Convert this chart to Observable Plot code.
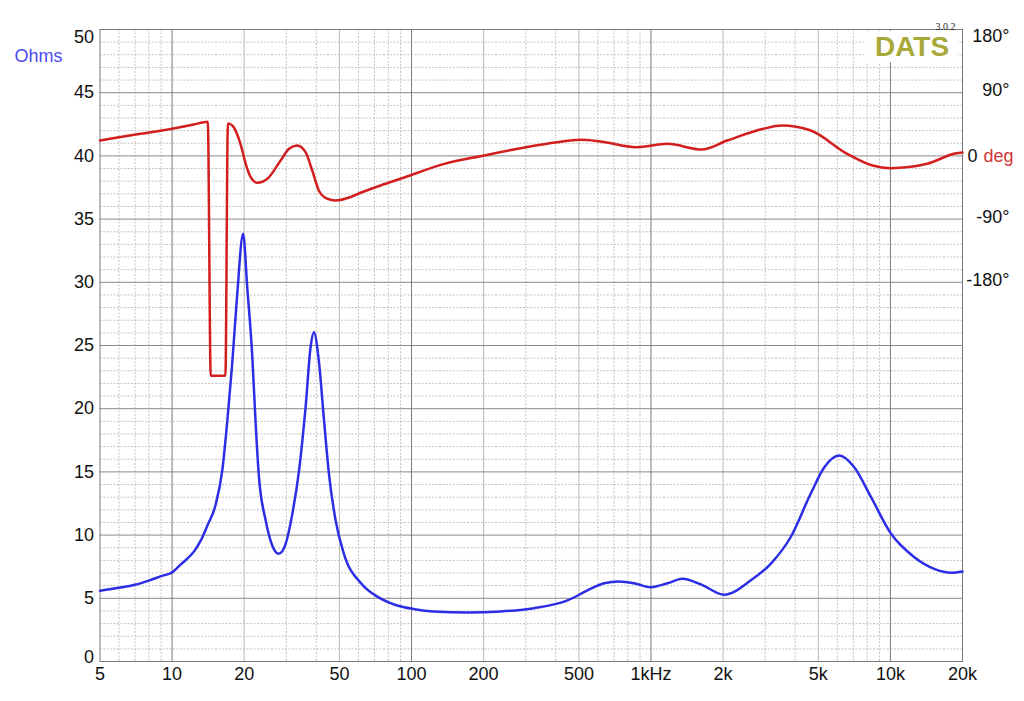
<!DOCTYPE html>
<html><head><meta charset="utf-8">
<script src="https://cdn.jsdelivr.net/npm/d3@7"></script>
<script src="https://cdn.jsdelivr.net/npm/@observablehq/plot@0.6"></script>
<style>
body{margin:0;background:#fff;font-family:"Liberation Sans",Arial,sans-serif;}
#wrap{position:relative;width:1024px;height:701px;overflow:hidden;}
#dats{position:absolute;left:866px;top:31px;width:92px;height:31px;background:#fff;color:#a9a93a;font-weight:bold;font-size:28px;line-height:32px;text-align:center;font-family:"Liberation Sans",Arial,sans-serif;}
</style></head>
<body><div id="wrap"></div>
<script>
// ---- data ----
const impFreq = [5,6,7,8,9,10,10.9,12.4,13.2,14.0,15.2,16.2,17.0,17.8,18.7,19.8,20.6,21.6,22.3,23.0,24.6,26.2,27.9,29.8,31.8,33.9,36.1,37.9,39.1,41.0,43.1,45.2,48.2,52.2,61.8,72.6,85.1,103,124,171,236,325,448,543,637,736,851,1000,1173,1355,1615,2023,2606,3162,3828,4645,5296,6115,7063,8299,10067,12587,15242,17945,20000];
const impOhms = [5.6,5.83,6.07,6.4,6.75,7.05,7.7,8.75,9.6,10.7,12.4,15.1,19.0,23.4,29.0,33.84,29.6,24.3,19.1,14.85,11.15,9.18,8.52,9.31,11.7,15.1,20.1,24.9,26.05,23.8,19.1,14.85,11.15,8.52,6.15,5.09,4.49,4.14,3.96,3.88,3.96,4.22,4.83,5.62,6.19,6.33,6.19,5.88,6.19,6.54,6.1,5.28,6.41,7.73,9.83,13.27,15.37,16.3,15.37,13.0,10.1,8.25,7.33,7.02,7.12];

const phaseFreq = [5,6,7.4,10,12.3,14.1,14.5,16.7,17.1,17.4,18.1,19.3,20.3,21.3,22.7,25.0,28.4,30.8,33.3,36.1,38.5,41.0,44.5,48.2,55.7,61.3,74.3,90,137,201,300,405,507,605,870,1170,1630,2080,2950,3516,4650,6590,8420,10025,14220,18790,20000];
const phaseDeg = [22,26.6,31.5,38.6,44.7,48.6,-313,-313,46,45.5,40.8,17.2,-11.2,-30.3,-38.3,-32.6,-6.5,10.1,14.8,5.3,-20.8,-49.2,-61,-63.4,-58.5,-52.5,-42.1,-32.6,-11.3,0.6,12.4,19.5,22.9,21,12.4,17.2,9.1,21.9,38.6,43.3,36.2,3,-13.7,-17.5,-11.3,3.8,5];

const freqTicks = [5,10,20,50,100,200,500,1000,2000,5000,10000,20000];
const freqLabels = ["5","10","20","50","100","200","500","1kHz","2k","5k","10k","20k"];
const ohmTicks = [0,5,10,15,20,25,30,35,40,45,50];
const ohmMidLabels = ["5","10","15","20","25","30","35","40","45"];
const ohmTop = [50];
const ohmBottom = [0];
const degTicks = [90,-90,-180];
const degLabels = ["90°","-90°","-180°"];
const degTop = [180];
const degTopLabel = ["180°"];

const decadeGrid = [10,100,1000,10000];
const midGrid = [20,50,200,500,2000,5000,20000];
const minorGrid = [6,7,8,9,30,40,60,70,80,90,300,400,600,700,800,900,3000,4000,6000,7000,8000,9000];
const ohmMinor = d3.range(0,51).filter(v => v % 5 !== 0);

// ---- tables ----
const impedance = impFreq.map((f,i)=>({f, z: impOhms[i]}));
const phase = phaseFreq.map((f,i)=>({f, deg: phaseDeg[i]}));
const degToOhm = d => 40 + d/18;
const ohmMid = ohmTicks.filter(t => t > 0 && t < 50);

const font = "Liberation Sans, Arial, Helvetica, sans-serif";

const chart = Plot.plot({
  width: 1024, height: 701,
  marginLeft: 99.5, marginRight: 62, marginTop: 29, marginBottom: 40,
  x: {type: "log", domain: [5, 20000], axis: null},
  y: {domain: [0, 50], axis: null},
  style: {fontFamily: font, fontSize: "18px", background: "#fff", color: "#111"},
  marks: [
    Plot.ruleY(ohmMinor, {stroke: "#c2c2c2", strokeDasharray: "2,1.5"}),
    Plot.ruleX(minorGrid, {stroke: "#c2c2c2", strokeDasharray: "2,1.5"}),
    Plot.ruleX(midGrid, {stroke: "#bababa"}),
    Plot.ruleY(ohmTicks, {stroke: "#8a8a8a"}),
    Plot.ruleX(decadeGrid, {stroke: "#7a7a7a"}),
    Plot.frame({stroke: "#7a7a7a"}),
    // x tick labels
    Plot.text(freqTicks, {x: d => d, text: (d,i) => freqLabels[i], frameAnchor: "bottom", lineAnchor: "top", dy: 6, fontSize: 18, fill: "#111"}),
    // y tick labels
    Plot.text(ohmMid, {y: d => d, text: (d,i) => ohmMidLabels[i], frameAnchor: "left", dx: -6, textAnchor: "end", fontSize: 18, fill: "#111"}),
    Plot.text(ohmTop, {y: d => d, text: d => String(d), frameAnchor: "left", dx: -6, dy: 8, textAnchor: "end", fontSize: 18, fill: "#111"}),
    Plot.text(ohmBottom, {y: d => d, text: d => String(d), frameAnchor: "left", dx: -6, dy: -4, textAnchor: "end", fontSize: 18, fill: "#111"}),
    // curves
    Plot.line(phase, {x: "f", y: d => degToOhm(d.deg), stroke: "#d21e1e", strokeWidth: 2.5, curve: "monotone-x"}),
    Plot.line(impedance, {x: "f", y: "z", stroke: "#2d2de6", strokeWidth: 2.5, curve: "monotone-x"}),
    // right phase labels
    Plot.text(degTicks, {y: d => degToOhm(d), text: (d,i) => degLabels[i], frameAnchor: "right", dx: 47, dy: -2, textAnchor: "end", fontSize: 18, fill: "#111"}),
    Plot.text(degTop, {y: d => degToOhm(d), text: (d,i) => degTopLabel[i], frameAnchor: "right", dx: 47, dy: 7, textAnchor: "end", fontSize: 18, fill: "#111"}),
    Plot.text(["0"], {y: degToOhm(0), text: d => d, frameAnchor: "right", dx: 5, textAnchor: "start", fontSize: 18, fill: "#111"}),
    Plot.text(["deg"], {y: degToOhm(0), text: d => d, frameAnchor: "right", dx: 21, textAnchor: "start", fontSize: 18, fill: "#d23838"}),
    Plot.text(["Ohms"], {text: d => d, frameAnchor: "top-left", dx: -85.5, dy: 20, textAnchor: "start", fontSize: 18, fill: "#4a4af0"}),
    Plot.text(["3.0.2"], {text: d => d, frameAnchor: "top-right", dx: -7, dy: -7, textAnchor: "end", fontSize: 10, fontFamily: "Liberation Serif, DejaVu Serif, serif", fill: "#222"})
  ]
});
const wrap = document.getElementById("wrap");
wrap.appendChild(chart);
const dats = document.createElement("div");
dats.id = "dats";
dats.textContent = "DATS";
wrap.appendChild(dats);
</script>
</body></html>
